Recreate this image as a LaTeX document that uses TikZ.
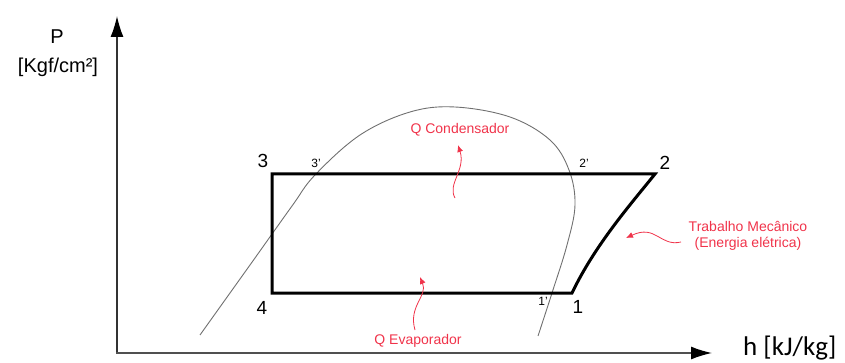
\documentclass[tikz,border=0pt]{standalone}
\usepackage{fontspec}
\setmainfont{Liberation Sans}
\newfontfamily\unitfont{Carlito}
\usetikzlibrary{arrows.meta,positioning,calc}
\definecolor{note}{HTML}{F0334A}
\definecolor{axisgray}{HTML}{505050}
\definecolor{domegray}{HTML}{707070}
\tikzset{
  axisline/.style={draw=axisgray,line width=1.4pt,-{Latex[length=21pt,width=13pt,fill=black,color=black]}},
  cycleline/.style={line width=3pt,line join=miter},
  dome/.style={domegray,line width=0.9pt},
  notearrow/.style={note,line width=0.8pt,-{Latex[length=7pt,width=6pt]}},
  notetext/.style={text=note,font=\fontsize{14}{16}\selectfont,align=center,inner sep=1pt},
  statelabel/.style={font=\fontsize{19}{20}\selectfont,inner sep=0pt},
  primelabel/.style={font=\fontsize{12}{13}\selectfont,inner sep=0pt}
}

\begin{document}
\begin{tikzpicture}[x=1pt,y=-1pt]
  \useasboundingbox (0,0) rectangle (845,363);

  % axes
  \coordinate (origin) at (117,353);
  \coordinate (ptop) at (117,16);
  \coordinate (hend) at (712,353);
  \draw[axisline,draw=black!80] (origin) -- (ptop);
  \draw[axisline] ([xshift=-1pt]origin) -- (hend);
  \node[font=\fontsize{20}{22}\selectfont] (plabel) at (57,37) {P};
  \node[font=\fontsize{20}{22}\selectfont] (punit) at (58,67) {[Kgf/cm²]};
  \node[font=\unitfont\fontsize{27}{28}\selectfont,anchor=base west,inner sep=0pt] (hlabel) at (743,355) {h [kJ/kg]};

  % saturation dome
  \draw[dome] plot[smooth,tension=0.6] coordinates {(200,335) (250,265) (292,206) (315,175) (360,135) (410,112) (455,107) (510,117) (550,140) (569,170) (575,205) (567,245) (552,293) (538,336)};

  % cycle
  \coordinate (s1) at (572,293);
  \coordinate (s2) at (655,174);
  \coordinate (s3) at (272,174);
  \coordinate (s4) at (272,293);
  \draw[cycleline] (s1) .. controls (595,245) and (630,205) .. (s2) -- (s3) -- (s4) -- cycle;

  \node[statelabel] (n3) at (263,161) {3};
  \node[statelabel] (n2) at (665,163) {2};
  \node[statelabel] (n4) at (262,308) {4};
  \node[statelabel] (n1) at (578,307) {1};
  \node[primelabel] (n3p) at (316,163) {3’};
  \node[primelabel] (n2p) at (584,163) {2’};
  \node[primelabel] (n1p) at (543,301) {1’};

  % notes
  \node[notetext] (qcond) at (460,130) {Q Condensador};
  \node[notetext] (qevap) at (418,341) {Q Evaporador};
  \node[notetext] (work) at (748,236) {Trabalho Mecânico\\(Energia elétrica)};

  \coordinate (condtail) at (455,198);
  \coordinate (condtip) at (458,145);
  \coordinate (evaptail) at (415,330);
  \coordinate (evaptip) at (420,277);
  \coordinate (worktail) at (681,242);
  \coordinate (worktip) at (626,238);
  \draw[notearrow] (condtail) .. controls (447,184) and (466,170) .. (condtip);
  \draw[notearrow] (evaptail) .. controls (408,306) and (428,296) .. (evaptip);
  \draw[notearrow] (worktail) .. controls (660,247) and (656,224) .. (worktip);
\end{tikzpicture}
\end{document}
